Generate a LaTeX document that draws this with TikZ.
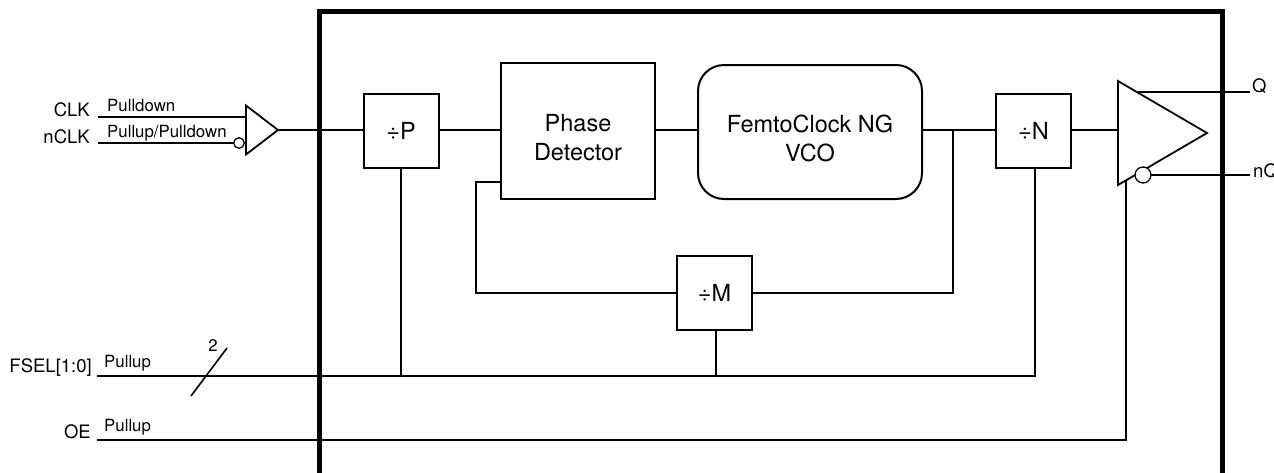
\documentclass[tikz,border=0pt]{standalone}
\usepackage{fontspec}
\setmainfont{TeX Gyre Heros}
\usetikzlibrary{positioning,shapes.geometric}
\tikzset{
  wire/.style={line width=1.6pt},
  block/.style={draw,line width=2pt,minimum width=75pt,minimum height=74pt,inner sep=0pt,outer sep=0pt,align=center,font=\fontsize{23.5}{29}\selectfont},
  amp/.style={draw,fill=white,line width=1.8pt,isosceles triangle,isosceles triangle stretches,inner sep=0pt,outer sep=0pt,anchor=lower side},
  bubble/.style={circle,draw,fill=white,line width=1.3pt,inner sep=0pt,outer sep=0pt},
  pin/.style={font=\fontsize{18.5}{22}\selectfont},
  pull/.style={font=\fontsize{16.8}{20}\selectfont}
}
\begin{document}
\begin{tikzpicture}[x=1pt,y=-1pt]
   \useasboundingbox (0,0) rectangle (1274,472);
   \coordinate (rail) at (0,130);
   \node (P) [block] at (401,131) {÷P};
   \node (PD) [block,minimum width=154pt,minimum height=136pt] at (578,131) {\rule{0pt}{31pt}Phase\\Detector};
   \node (VCO) [block,rounded corners=26pt,minimum width=224pt,minimum height=134pt] at (810,132) {\rule{0pt}{31pt}FemtoClock NG\\VCO};
   \node (N) [block] at (1033.5,131) {÷N};
   \node (M) [block] at (714.5,293) {÷M};
   \node (buf) [amp,minimum width=49pt,minimum height=32pt] at (246,130) {};
   \node (out) [amp,minimum width=104pt,minimum height=89pt] at (1118,133) {};
   \node (nbuf) [bubble,minimum size=10.6pt] at (239,143) {};
   \node (nout) [bubble,minimum size=16pt] at (1143,175) {};
   \coordinate (clkin) at (98,117);
   \coordinate (nclkin) at (98,143);
   \coordinate (fselin) at (97,376);
   \coordinate (oein) at (97,440);
   \coordinate (qout) at (1250,92);
   \coordinate (nqout) at (1250,175);
   \coordinate (qin) at (1138,92);
   \coordinate (pdfb) at (501,182);
   \coordinate (vcotap) at (953,130);
   \coordinate (oeup) at (1126,180);
   \coordinate (sla) at (191,396);
   \coordinate (slb) at (227,348);
   \node (CLK) [pin,anchor=east] at (93.3,110) {CLK};
   \node (nCLK) [pin,anchor=east] at (93.3,137) {nCLK};
   \node (FSEL) [pin,anchor=east] at (95.3,368) {FSEL[1:0]};
   \node (OE) [pin,anchor=east] at (94.3,432) {OE};
   \node (Q) [pin,anchor=west] at (1248.7,86) {Q};
   \node (nQ) [pin,anchor=west] at (1249.7,171) {nQ};
   \node (pd) [pull,anchor=west] at (103.7,105) {Pulldown};
   \node (pupd) [pull,anchor=west] at (103.7,133) {Pullup/Pulldown};
   \node (pu1) [pull,anchor=west] at (100.7,363) {Pullup};
   \node (pu2) [pull,anchor=west] at (100.7,427) {Pullup};
   \node (two) [pull] at (213,346) {2};
   \draw[line width=5pt] (319,480) |- (1222,11) -- (1222,480);
   \path[wire]
     (clkin) edge (clkin -| buf.lower side)
     (nclkin) edge (nbuf.west)
     (buf.apex) edge (buf.apex -| P.west)
     (P.east |- rail) edge (PD.west |- rail)
     (PD.east |- rail) edge (VCO.west |- rail)
     (VCO.east |- rail) edge (N.west |- rail)
     (N.east |- rail) edge (out.lower side |- rail)
     (qin) edge (qout)
     (nout.east) edge (nqout)
     (sla) edge (slb)
     (P.south) edge (P.south |- fselin);
   \draw[wire] (fselin) -| ([xshift=1.5pt]N.south);
   \draw[wire] (oein) -| (oeup);
   \draw[wire] (pdfb) -| (476,293) -- (M.west);
   \draw[wire] (M.east) -| (vcotap);
   \draw[wire] ([xshift=1.5pt]M.south) -- ([xshift=1.5pt]M.south |- fselin);
\end{tikzpicture}
\end{document}
